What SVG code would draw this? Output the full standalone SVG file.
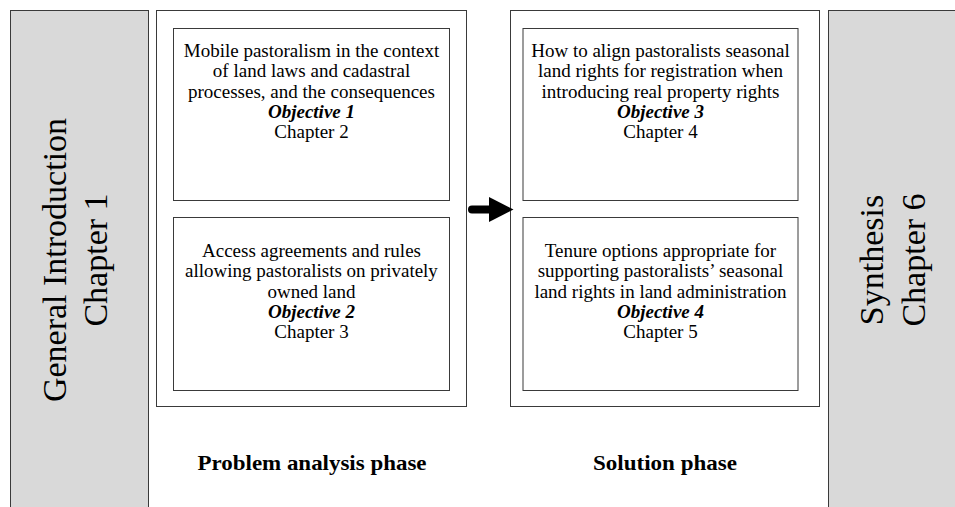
<svg xmlns="http://www.w3.org/2000/svg" width="955" height="507" viewBox="0 0 955 507">
<style>
.panel{fill:#d9d9d9;stroke:#3a3a3a;stroke-width:1}
.box{fill:#ffffff;stroke:#3a3a3a;stroke-width:1}
.t{font-family:"Liberation Serif","Times New Roman",serif;font-size:19px;fill:#000;text-anchor:middle}
.ob{font-weight:bold;font-style:italic}
.big{font-family:"Liberation Serif","Times New Roman",serif;font-size:34px;fill:#000;text-anchor:middle}
.lbl{font-family:"Liberation Serif","Times New Roman",serif;font-size:22px;font-weight:bold;fill:#000;text-anchor:middle}
</style>
<rect width="955" height="507" fill="#ffffff"/>

<g id="intro">
  <rect class="panel" x="10.5" y="10.5" width="138" height="510"/>
  <text class="big" transform="translate(66,260) rotate(-90)">General Introduction</text>
  <text class="big" transform="translate(107,260) rotate(-90)">Chapter 1</text>
</g>

<g id="synthesis">
  <rect class="panel" x="828.5" y="10.5" width="140" height="510"/>
  <text class="big" transform="translate(883,260) rotate(-90)">Synthesis</text>
  <text class="big" transform="translate(925,260) rotate(-90)">Chapter 6</text>
</g>

<g id="problem-phase">
  <rect class="box" x="156.5" y="10.5" width="310" height="396"/>
  <text class="lbl" x="312" y="470" textLength="229" lengthAdjust="spacingAndGlyphs">Problem analysis phase</text>
</g>

<g id="solution-phase">
  <rect class="box" x="510.5" y="10.5" width="309" height="396"/>
  <text class="lbl" x="665" y="470" textLength="144" lengthAdjust="spacingAndGlyphs">Solution phase</text>
</g>

<g id="objective1">
  <rect class="box" x="173.5" y="28.5" width="276" height="172"/>
  <text class="t" x="311.5" y="56.5">Mobile pastoralism in the context</text>
  <text class="t" x="311.5" y="77">of land laws and cadastral</text>
  <text class="t" x="311.5" y="97.5">processes, and the consequences</text>
  <text class="t ob" x="311.5" y="117.5">Objective 1</text>
  <text class="t" x="311.5" y="138">Chapter 2</text>
</g>

<g id="objective2">
  <rect class="box" x="173.5" y="217.5" width="276" height="173"/>
  <text class="t" x="311.5" y="256.5">Access agreements and rules</text>
  <text class="t" x="311.5" y="277">allowing pastoralists on privately</text>
  <text class="t" x="311.5" y="297.5">owned land</text>
  <text class="t ob" x="311.5" y="317.5">Objective 2</text>
  <text class="t" x="311.5" y="338">Chapter 3</text>
</g>

<g id="objective3">
  <rect class="box" x="523" y="28.5" width="275" height="172"/>
  <text class="t" x="660.5" y="56.5">How to align pastoralists seasonal</text>
  <text class="t" x="660.5" y="77">land rights for registration when</text>
  <text class="t" x="660.5" y="97.5">introducing real property rights</text>
  <text class="t ob" x="660.5" y="117.5">Objective 3</text>
  <text class="t" x="660.5" y="138">Chapter 4</text>
</g>

<g id="objective4">
  <rect class="box" x="523" y="217.5" width="275" height="173"/>
  <text class="t" x="660.5" y="256.5">Tenure options appropriate for</text>
  <text class="t" x="660.5" y="277">supporting pastoralists’ seasonal</text>
  <text class="t" x="660.5" y="297.5">land rights in land administration</text>
  <text class="t ob" x="660.5" y="317.5">Objective 4</text>
  <text class="t" x="660.5" y="338">Chapter 5</text>
</g>

<g id="connectors">
  <line x1="472" y1="209.5" x2="492" y2="209.5" stroke="#000" stroke-width="8" stroke-linecap="round"/>
  <polygon points="489,197 513.5,209.5 489,222" fill="#000"/>
</g>
</svg>
